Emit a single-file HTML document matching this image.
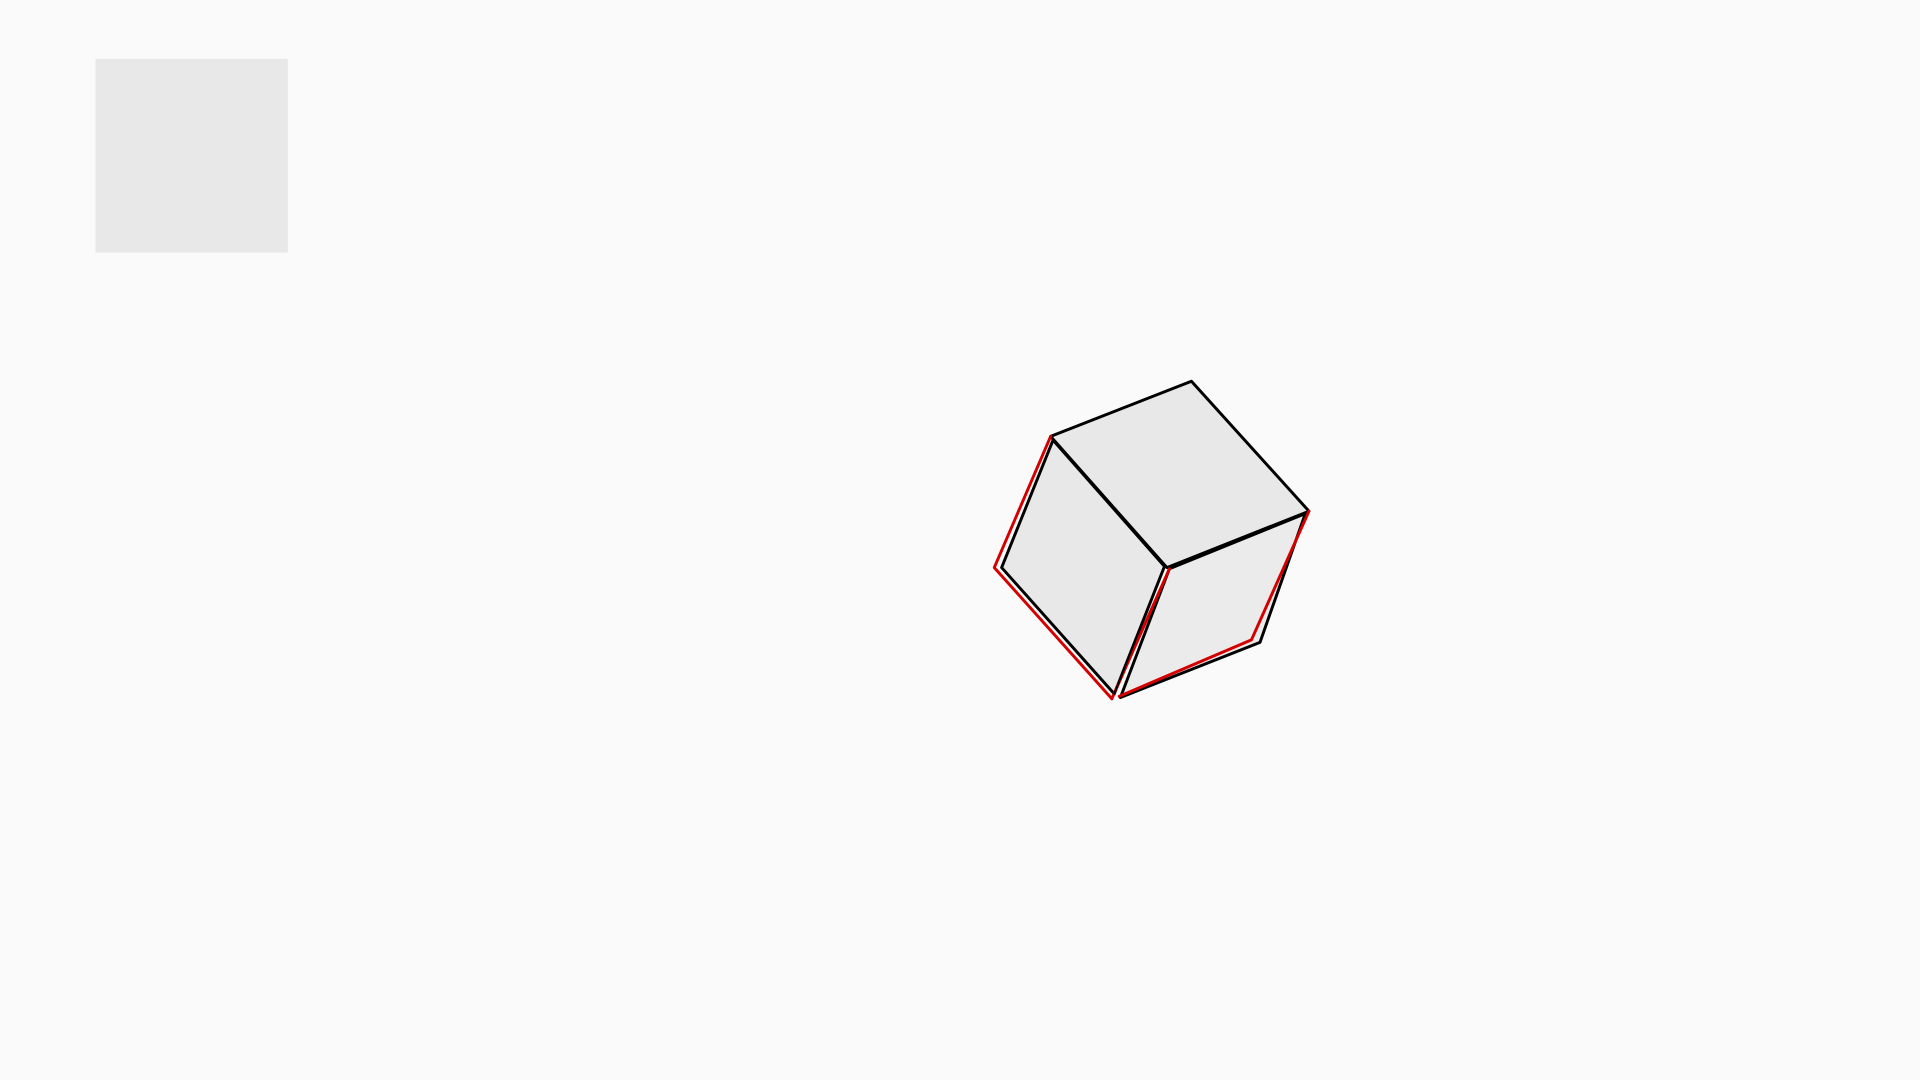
<!DOCTYPE html>
<html>
<head>
<meta charset="utf-8">
<style>
html,body{margin:0;padding:0;background:#fafafa;width:1920px;height:1080px;overflow:hidden;}
svg{display:block;}
</style>
</head>
<body>
<svg width="1920" height="1080" viewBox="0 0 1568 881" preserveAspectRatio="none" xmlns="http://www.w3.org/2000/svg">
  <rect x="0" y="0" width="1568" height="881" fill="#fafafa"/>
  <rect x="78" y="48" width="157" height="158" fill="#e8e8e8"/>
  <g stroke-linejoin="round" stroke-linecap="round">
    <polygon points="858,356 973,311 1069,417 953,463" fill="#e8e8e8" stroke="#000" stroke-width="2.4"/>
    <polygon points="860,359 951,462 910,566 818,463" fill="#e8e8e8" stroke="#000" stroke-width="2.4"/>
    <polygon points="955,464 1066,419 1029,524 915,569" fill="#ebebeb" stroke="#000" stroke-width="2.4"/>
    <polyline points="858,356 812,463 908,570" fill="none" stroke="#d40000" stroke-width="2.4"/>
    <polyline points="955,464 908,570" fill="none" stroke="#d40000" stroke-width="2.4"/>
    <polyline points="1069,417 1022,522 914,568" fill="none" stroke="#d40000" stroke-width="2.4"/>
    <polyline points="951,462 910,566" fill="none" stroke="#000" stroke-width="1.6"/>
  </g>
</svg>
</body>
</html>
